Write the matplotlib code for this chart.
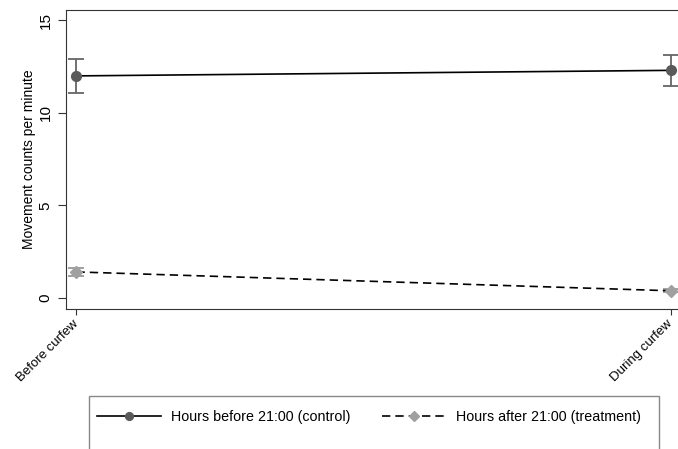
import matplotlib.pyplot as plt
from matplotlib.patches import Rectangle
import numpy as np

plt.rcParams['font.family'] = ['Liberation Sans', 'DejaVu Sans']

periods = ['Before curfew', 'During curfew']
control = [12.0, 12.3]
control_lo = [11.1, 11.45]
control_hi = [12.9, 13.15]
treatment = [1.4, 0.38]
treatment_lo = [1.2, 0.3]
treatment_hi = [1.6, 0.46]

fig = plt.figure(figsize=(6.78, 4.49), dpi=100)
ax = fig.add_axes([0.097, 0.312, 0.903, 0.666])

x = np.arange(len(periods))
ctl = np.array(control)
trt = np.array(treatment)

ax.errorbar(x, ctl, yerr=[ctl - np.array(control_lo), np.array(control_hi) - ctl],
            fmt='none', ecolor='#666666', elinewidth=1.3, capsize=6, capthick=1.3, zorder=2)
ax.errorbar(x, trt, yerr=[trt - np.array(treatment_lo), np.array(treatment_hi) - trt],
            fmt='none', ecolor='#999999', elinewidth=1.3, capsize=6, capthick=1.3, zorder=2)
l1, = ax.plot(x, ctl, '-', color='black', lw=1.2, marker='o', ms=7,
              mfc='#5a5a5a', mec='#5a5a5a', zorder=3, label='Hours before 21:00 (control)')
l2, = ax.plot(x, trt, '--', color='black', lw=1.2, dashes=(5, 3), marker='D', ms=6,
              mfc='#a0a0a0', mec='#a0a0a0', zorder=3, label='Hours after 21:00 (treatment)')

ax.set_xlim(-0.018, 1.012)
ax.set_ylim(-0.6, 15.57)
ax.set_yticks([0, 5, 10, 15])
ax.set_xticks(x)
ax.set_xticklabels(periods, rotation=45, ha='right', va='center',
                   rotation_mode='anchor', fontsize=9.5)
for t in ax.get_yticklabels():
    t.set_rotation(90)
    t.set_va('center')
    t.set_fontsize(11)
ax.set_ylabel('Movement counts per minute', fontsize=10, labelpad=2)
ax.spines['right'].set_visible(False)
for s in ['left', 'bottom', 'top']:
    ax.spines[s].set_color('#333333')
ax.tick_params(axis='y', color='#333333', length=6)
ax.tick_params(axis='x', color='#333333', length=4.5, pad=5)

# legend box runs off the bottom of the figure, as in the original
fig.patches.append(Rectangle((89 / 678, -0.05), 570 / 678, 0.168, transform=fig.transFigure,
                             fill=False, edgecolor='#888888', lw=1))
fig.legend(handles=[l1, l2], loc='center left', bbox_to_anchor=(97 / 678, 1 - 417 / 449),
           ncol=2, frameon=False, fontsize=10.3, handlelength=4.5, handletextpad=0.7,
           columnspacing=2.15, borderpad=0, borderaxespad=0, markerscale=0.8)

fig.savefig('out.png', dpi=100)
